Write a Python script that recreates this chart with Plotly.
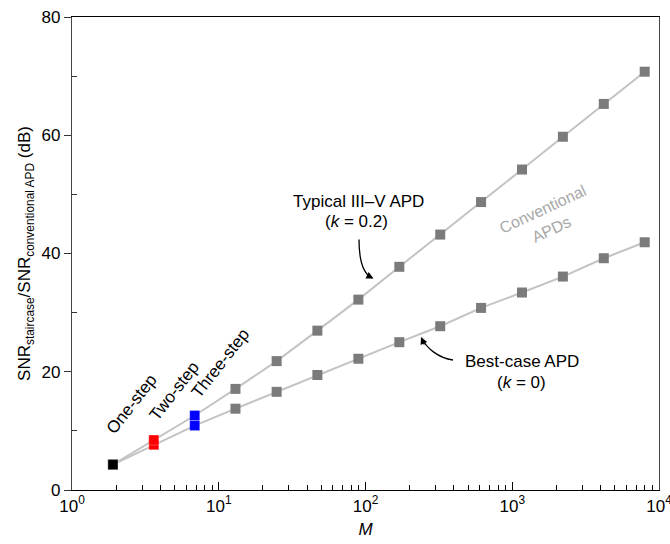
import plotly.graph_objects as go

# Data
M = [1.9, 3.61, 6.86, 13.0, 24.8, 47.0, 89.4, 170, 323, 613, 1165, 2213, 4205, 7990]
snr_typical = [4.3, 8.45, 12.6, 17.1, 21.8, 26.95, 32.2, 37.75, 43.2, 48.7, 54.2, 59.75, 65.3, 70.75]
snr_best = [4.3, 7.65, 10.9, 13.75, 16.6, 19.45, 22.2, 25.0, 27.7, 30.8, 33.4, 36.1, 39.2, 41.9]
step_labels = ["One-step", "Two-step", "Three-step"]
step_colors = ["#000000", "#ff0000", "#0000ff"]

FONT = "Liberation Sans, Arial, Helvetica, sans-serif"
L, R, T, B = 72, 11, 17, 54
W, H = 670, 544
PW, PH = W - L - R, H - T - B


def px(x):
    return (x - L) / PW


def py(y):
    return (H - B - y) / PH


fig = go.Figure()

for ys in (snr_typical, snr_best):
    fig.add_trace(go.Scatter(x=M, y=ys, mode="lines",
                             line=dict(color="#c3c3c3", width=2),
                             hoverinfo="skip", showlegend=False))
    fig.add_trace(go.Scatter(x=M[3:], y=ys[3:], mode="markers",
                             marker=dict(symbol="square", size=10, color="#7b7b7b",
                                         line=dict(width=0)),
                             showlegend=False))

# Staircase points (one-, two-, three-step)
for i in range(3):
    fig.add_trace(go.Scatter(x=[M[i], M[i]], y=[snr_best[i], snr_typical[i]], mode="markers",
                             marker=dict(symbol="square", size=10, color=step_colors[i],
                                         line=dict(width=0.5, color="rgba(255,255,255,0.5)")),
                             showlegend=False))

annotations = []
font17 = dict(family=FONT, size=17, color="black")

annotations.append(dict(x=px(358), y=py(201.7), text="Typical III\u2013V APD"))
annotations.append(dict(x=px(356), y=py(221.5), text="(<i>k</i> = 0.2)"))
annotations.append(dict(x=px(521.7), y=py(361.7), text="Best-case APD"))
annotations.append(dict(x=px(521), y=py(382.5), text="(<i>k</i> = 0)"))
for a in annotations:
    a.update(xref="paper", yref="paper", showarrow=False, font=font17,
             xanchor="center", yanchor="middle")

gray_font = dict(family=FONT, size=16, color="#a8a8a8")
annotations.append(dict(x=px(542.3), y=py(209), xref="paper", yref="paper",
                        text="Conventional", showarrow=False, textangle=-25,
                        font=gray_font, xanchor="center", yanchor="middle"))
annotations.append(dict(x=px(551), y=py(229.5), xref="paper", yref="paper",
                        text="APDs", showarrow=False, textangle=-25,
                        font=gray_font, xanchor="center", yanchor="middle"))

for (cx, cy), lab in zip([(131.5, 404.5), (174, 391.5), (220, 363)], step_labels):
    annotations.append(dict(x=px(cx), y=py(cy), xref="paper", yref="paper",
                            text=lab, showarrow=False, textangle=-52, font=font17,
                            xanchor="center", yanchor="middle"))

# arrowheads
annotations.append(dict(x=px(373.5), y=py(278.5), xref="paper", yref="paper", text="",
                        showarrow=True, arrowhead=2, arrowsize=1.1, arrowwidth=1.3,
                        arrowcolor="black", ax=-8, ay=-4, standoff=0))
annotations.append(dict(x=px(421), y=py(337), xref="paper", yref="paper", text="",
                        showarrow=True, arrowhead=2, arrowsize=1.1, arrowwidth=1.3,
                        arrowcolor="black", ax=4, ay=9, standoff=0))


def path(pts):
    (x0, y0), (x1, y1), (x2, y2), (x3, y3) = pts
    return (f"M {px(x0)},{py(y0)} C {px(x1)},{py(y1)} {px(x2)},{py(y2)} {px(x3)},{py(y3)}")


shapes = [
    dict(type="path", xref="paper", yref="paper",
         path=path([(359, 239.5), (359, 262), (364, 274), (372, 278)]),
         line=dict(color="black", width=1.3)),
    dict(type="path", xref="paper", yref="paper",
         path=path([(453, 360), (438, 358), (427, 348), (422, 339)]),
         line=dict(color="black", width=1.3)),
]

fig.update_layout(
    width=W, height=H,
    margin=dict(l=L, r=R, t=T, b=B, autoexpand=False),
    paper_bgcolor="white", plot_bgcolor="white",
    font=dict(family=FONT, size=16, color="black"),
    showlegend=False,
    annotations=annotations,
    shapes=shapes,
)

fig.update_xaxes(
    type="log", range=[0, 4],
    tickvals=[1, 10, 100, 1000, 10000],
    ticktext=["10<sup>0</sup>", "10<sup>1</sup>", "10<sup>2</sup>", "10<sup>3</sup>", "10<sup>4</sup>"],
    ticklabeloverflow="allow", automargin=False,
    ticks="inside", ticklen=8, tickwidth=1, tickcolor="black",
    minor=dict(ticks="inside", ticklen=5, tickwidth=1, tickcolor="black",
               tickvals=[2, 3, 4, 5, 6, 7, 8, 9, 20, 30, 40, 50, 60, 70, 80, 90,
                         200, 300, 400, 500, 600, 700, 800, 900,
                         2000, 3000, 4000, 5000, 6000, 7000, 8000, 9000], showgrid=False),
    showline=True, linecolor="black", linewidth=1.3, mirror=True,
    showgrid=False, zeroline=False,
    tickfont=dict(family=FONT, size=17),
    title=dict(text="<i>M</i>", font=dict(family=FONT, size=17), standoff=8),
)

fig.update_yaxes(
    range=[0, 80],
    tickvals=[0, 20, 40, 60, 80],
    ticklabeloverflow="allow", automargin=False,
    ticks="outside", ticklen=7, tickwidth=1, tickcolor="#333",
    minor=dict(ticks="inside", ticklen=5, tickwidth=1, tickcolor="#333",
               tickvals=[10, 30, 50, 70], showgrid=False),
    showline=True, linecolor="#444", linewidth=1.3, mirror=True,
    showgrid=False, zeroline=False,
    tickfont=dict(family=FONT, size=17),
    title=dict(text="SNR<sub>staircase</sub>/SNR<sub>conventional APD</sub> (dB)",
               font=dict(family=FONT, size=17), standoff=6),
)

fig.write_html("out.html")
